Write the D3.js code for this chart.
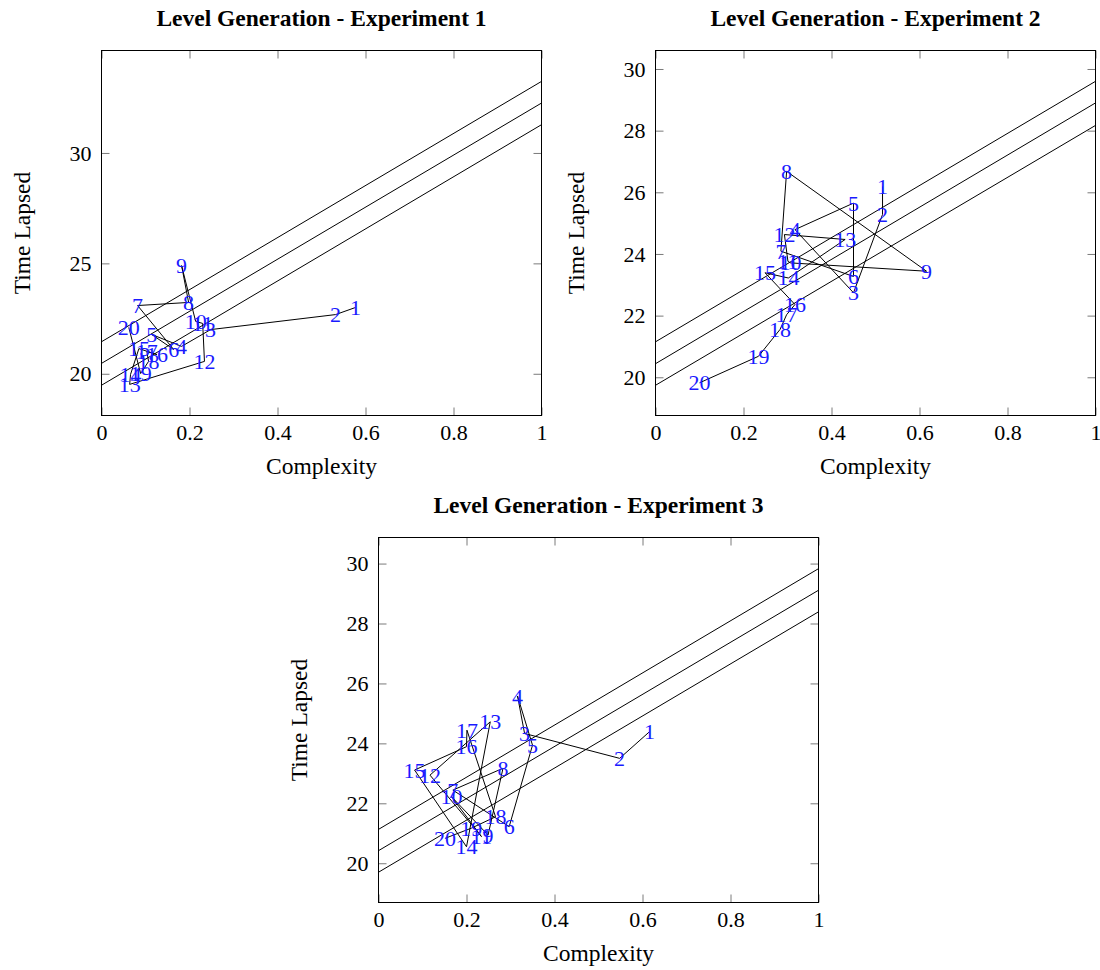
<!DOCTYPE html>
<html>
<head>
<meta charset="utf-8">
<script src="https://cdn.jsdelivr.net/npm/d3@7"></script>
<style>
  body { margin: 0; background: #fff; }
  svg text { font-family: "Liberation Serif", "DejaVu Serif", serif; }
</style>
</head>
<body>
<svg width="1100" height="970"></svg>
<script>
// values (point order = label 1..20)
const exp1Complexity = [0.577, 0.532, 0.248, 0.182, 0.114, 0.164, 0.082, 0.198, 0.182, 0.214,
                        0.230, 0.234, 0.064, 0.066, 0.085, 0.126, 0.103, 0.107, 0.089, 0.062];
const exp1Time = [23.00, 22.68, 22.00, 21.24, 21.78, 21.10, 23.09, 23.23, 24.90, 22.37,
                  22.28, 20.56, 19.52, 19.97, 21.14, 20.87, 21.01, 20.56, 20.01, 22.10];
// each fit line as [value at x=0, value at x=1]
const exp1Lines = [[21.45, 33.24], [20.47, 32.26], [19.48, 31.28]];
const exp1YRange = [18.11, 34.64];
const exp1YTicks = [20, 25, 30];

const exp2Complexity = [0.516, 0.516, 0.450, 0.317, 0.450, 0.450, 0.285, 0.298, 0.616, 0.307,
                        0.301, 0.293, 0.431, 0.302, 0.249, 0.317, 0.298, 0.283, 0.234, 0.100];
const exp2Time = [26.19, 25.28, 22.74, 24.79, 25.65, 23.27, 24.09, 26.68, 23.44, 23.71,
                  23.76, 24.63, 24.47, 23.22, 23.39, 22.36, 22.03, 21.55, 20.68, 19.82];
const exp2Lines = [[21.15, 29.60], [20.44, 28.90], [19.74, 28.17]];
const exp2YRange = [18.76, 30.60];
const exp2YTicks = [20, 22, 24, 26, 28, 30];

const exp3Complexity = [0.616, 0.548, 0.332, 0.316, 0.350, 0.297, 0.169, 0.283, 0.249, 0.166,
                        0.234, 0.117, 0.254, 0.200, 0.082, 0.200, 0.201, 0.266, 0.211, 0.151];
const exp3Time = [24.39, 23.50, 24.33, 25.58, 23.94, 21.22, 22.44, 23.17, 20.94, 22.22,
                  20.89, 22.94, 24.72, 20.55, 23.11, 23.89, 24.44, 21.55, 21.17, 20.83];
const exp3Lines = [[21.13, 29.83], [20.42, 29.11], [19.70, 28.39]];
const exp3YRange = [18.69, 30.87];
const exp3YTicks = [20, 22, 24, 26, 28, 30];

const xTicks = [0, 0.2, 0.4, 0.6, 0.8, 1];
const titles = ['Level Generation - Experiment 1', 'Level Generation - Experiment 2', 'Level Generation - Experiment 3'];
const xLabel = 'Complexity';
const yLabel = 'Time Lapsed';

const svg = d3.select('svg');
svg.append('rect').attr('width', 1100).attr('height', 970).attr('fill', '#fff');

const tickLen = 8;
const tickColor = '#7a7a7a';

function drawChart(title, xs, ys, fitLines, yRange, yTicks, left, top) {
  const width = 440, height = 365;
  const g = svg.append('g').attr('transform', `translate(${left}, ${top})`);

  const xScale = d3.scaleLinear().domain([0, 1]).range([0, width]);
  const yScale = d3.scaleLinear().domain(yRange).range([height, 0]);

  // ticks on all four sides, pointing inward
  const bottom = g.append('g').attr('transform', `translate(0, ${height})`)
    .call(d3.axisBottom(xScale).tickValues(xTicks).tickSize(-tickLen).tickPadding(9)
      .tickFormat(d => d3.format('~g')(d)));
  const leftAx = g.append('g')
    .call(d3.axisLeft(yScale).tickValues(yTicks).tickSize(-tickLen).tickPadding(10));
  const topAx = g.append('g')
    .call(d3.axisTop(xScale).tickValues(xTicks).tickSize(-tickLen).tickFormat(''));
  const rightAx = g.append('g').attr('transform', `translate(${width}, 0)`)
    .call(d3.axisRight(yScale).tickValues(yTicks).tickSize(-tickLen).tickFormat(''));

  [bottom, leftAx, topAx, rightAx].forEach(ax => {
    ax.select('.domain').remove();
    ax.selectAll('.tick line').attr('stroke', tickColor);
    ax.selectAll('.tick text').attr('fill', '#000').style('font-size', '22px')
      .style('font-family', '"Liberation Serif", serif');
  });

  // fit band lines
  const line = d3.line().x(d => xScale(d[0])).y(d => yScale(d[1]));
  g.selectAll('.fit').data(fitLines).enter().append('path')
    .attr('class', 'fit')
    .attr('d', d => line([[0, d[0]], [1, d[1]]]))
    .attr('fill', 'none').attr('stroke', '#000').attr('stroke-width', 1);

  // data path in point order
  const pts = xs.map((x, i) => [x, ys[i]]);
  g.append('path').attr('d', line(pts))
    .attr('fill', 'none').attr('stroke', '#000').attr('stroke-width', 1);

  g.selectAll('.lbl').data(pts).enter().append('text')
    .attr('class', 'lbl')
    .attr('x', d => xScale(d[0]))
    .attr('y', d => yScale(d[1]))
    .attr('dy', '0.34em')
    .attr('text-anchor', 'middle')
    .attr('fill', '#1a1aff')
    .style('font-size', '22px')
    .text((d, i) => i + 1);

  // frame
  g.append('rect').attr('width', width).attr('height', height)
    .attr('fill', 'none').attr('stroke', '#000').attr('stroke-width', 1);

  g.append('text').attr('x', width / 2).attr('y', -25)
    .attr('text-anchor', 'middle').style('font-size', '23.5px').style('font-weight', 'bold')
    .text(title);
  g.append('text').attr('x', width / 2).attr('y', height + 58)
    .attr('text-anchor', 'middle').style('font-size', '23.5px')
    .text(xLabel);
  g.append('text').attr('transform', `translate(-72, ${height / 2}) rotate(-90)`)
    .attr('text-anchor', 'middle').style('font-size', '23.5px')
    .text(yLabel);
}

drawChart(titles[0], exp1Complexity, exp1Time, exp1Lines, exp1YRange, exp1YTicks, 101.5, 50.5);
drawChart(titles[1], exp2Complexity, exp2Time, exp2Lines, exp2YRange, exp2YTicks, 655.5, 50.5);
drawChart(titles[2], exp3Complexity, exp3Time, exp3Lines, exp3YRange, exp3YTicks, 378.5, 537.5);
</script>
</body>
</html>
